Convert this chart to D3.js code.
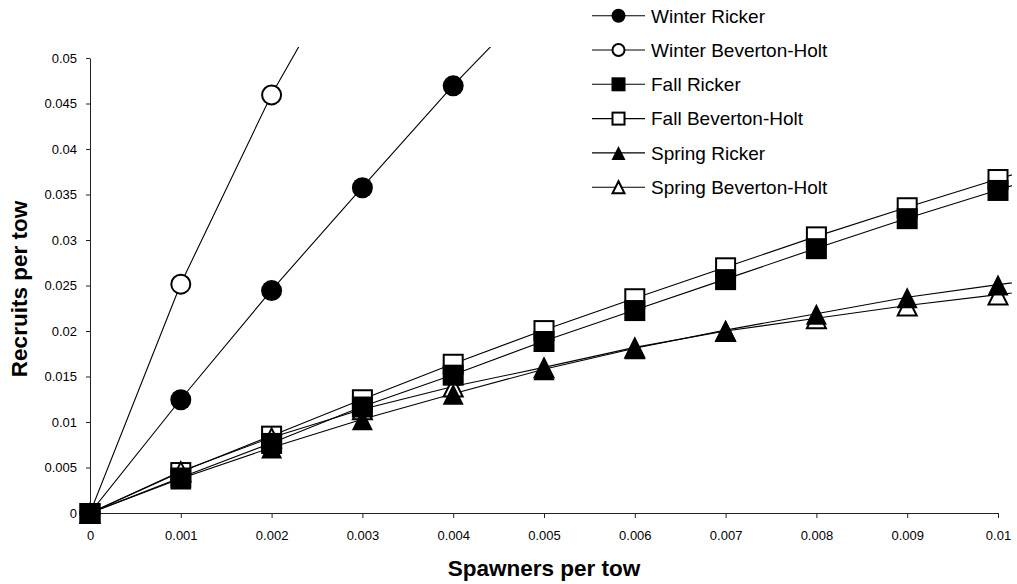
<!DOCTYPE html>
<html>
<head>
<meta charset="utf-8">
<script src="https://cdn.jsdelivr.net/npm/d3@7"></script>
<style>
  html, body { margin: 0; padding: 0; background: #fff; }
  svg { display: block; font-family: "Liberation Sans", Arial, sans-serif; }
</style>
</head>
<body>
<svg id="chart" width="1017" height="584"></svg>
<script>
// ---- data ----
const spawners = [0, 0.001, 0.002, 0.003, 0.004, 0.005, 0.006, 0.007, 0.008, 0.009, 0.010, 0.011];
const winterRicker = [0, 0.0125, 0.0245, 0.0358, 0.0470, 0.0573];
const winterBH = [0, 0.0252, 0.0460, 0.0635];
const fallRicker = [0, 0.0039, 0.0077, 0.0117, 0.0152, 0.0189, 0.0223, 0.0257, 0.0291, 0.0324, 0.0355, 0.0386];
const fallBH = [0, 0.0045, 0.0085, 0.0125, 0.0164, 0.0201, 0.0236, 0.0270, 0.0304, 0.0336, 0.0367, 0.0397];
const springRicker = [0, 0.0038, 0.0072, 0.0103, 0.0131, 0.0158, 0.0181, 0.0201, 0.0219, 0.0237, 0.0251, 0.0263];
const springBH = [0, 0.0046, 0.0083, 0.0114, 0.0139, 0.0160, 0.0182, 0.0200, 0.0214, 0.0228, 0.0240, 0.0251];

const xTicks = [0, 0.001, 0.002, 0.003, 0.004, 0.005, 0.006, 0.007, 0.008, 0.009, 0.01];
const xTickLabels = ["0", "0.001", "0.002", "0.003", "0.004", "0.005", "0.006", "0.007", "0.008", "0.009", "0.01"];
const yTicks = [0, 0.005, 0.01, 0.015, 0.02, 0.025, 0.03, 0.035, 0.04, 0.045, 0.05];
const yTickLabels = ["0", "0.005", "0.01", "0.015", "0.02", "0.025", "0.03", "0.035", "0.04", "0.045", "0.05"];

const seriesNames = ["Winter Ricker", "Winter Beverton-Holt", "Fall Ricker", "Fall Beverton-Holt", "Spring Ricker", "Spring Beverton-Holt"];
const seriesValues = [winterRicker, winterBH, fallRicker, fallBH, springRicker, springBH];
const seriesShapes = ["circle", "circle", "square", "square", "triangle", "triangle"];
const seriesFilled = [true, false, true, false, true, false];
const drawOrder = [1, 3, 5, 0, 2, 4]; // open (Beverton-Holt) markers first, filled on top

const xTitle = "Spawners per tow";
const yTitle = "Recruits per tow";

// ---- layout ----
const svg = d3.select("#chart");
const x = d3.scaleLinear().domain([0, 0.01]).range([90, 998]);
const y = d3.scaleLinear().domain([0, 0.05]).range([513, 58]);
const font = '"Liberation Sans", Arial, sans-serif';

svg.append("defs").append("clipPath").attr("id", "plotClip")
  .append("rect").attr("x", 60).attr("y", 47).attr("width", 952).attr("height", 537);

// axes
const yAxis = d3.axisLeft(y).tickValues(yTicks)
  .tickFormat((d, i) => yTickLabels[i]).tickSizeInner(4).tickSizeOuter(0).tickPadding(9);
const gy = svg.append("g").attr("transform", "translate(90,0)").call(yAxis);
const xAxis = d3.axisBottom(x).tickValues(xTicks)
  .tickFormat((d, i) => xTickLabels[i]).tickSizeInner(5).tickSizeOuter(0).tickPadding(13);
const gx = svg.append("g").attr("transform", "translate(0,513)").call(xAxis);
[gx, gy].forEach(g => {
  g.selectAll("path.domain").attr("stroke", "#222").attr("stroke-width", 1);
  g.selectAll(".tick line").attr("stroke", "#222");
  g.selectAll("text").attr("font-family", font).attr("font-size", 13).attr("fill", "#000");
});

// axis titles
svg.append("text").attr("x", 544).attr("y", 576)
  .attr("text-anchor", "middle").attr("font-family", font).attr("font-weight", "bold")
  .attr("font-size", 22.5).text(xTitle);
svg.append("text").attr("transform", "translate(27,289) rotate(-90)")
  .attr("text-anchor", "middle").attr("font-family", font).attr("font-weight", "bold")
  .attr("font-size", 22.5).text(yTitle);

// marker helper
function marker(g, shape, filled, cx, cy, size) {
  const sw = filled ? 0 : 2;
  const fill = filled ? "#000" : "#fff";
  const s = filled ? size : size - sw;
  if (shape === "circle") {
    g.append("circle").attr("cx", cx).attr("cy", cy).attr("r", s / 2)
      .attr("fill", fill).attr("stroke", "#000").attr("stroke-width", sw);
  } else if (shape === "square") {
    g.append("rect").attr("x", cx - s / 2).attr("y", cy - s / 2).attr("width", s).attr("height", s)
      .attr("fill", fill).attr("stroke", "#000").attr("stroke-width", sw);
  } else {
    const h = s, w = s;
    const p = `M${cx},${cy - h / 2}L${cx + w / 2},${cy + h / 2}L${cx - w / 2},${cy + h / 2}Z`;
    g.append("path").attr("d", p).attr("fill", fill).attr("stroke", "#000")
      .attr("stroke-width", sw).attr("stroke-linejoin", "miter");
  }
}

// lines
const line = d3.line().x(d => x(d[0])).y(d => y(d[1]));
const linesG = svg.append("g").attr("clip-path", "url(#plotClip)");
seriesValues.forEach(vals => {
  const pts = vals.map((v, i) => [spawners[i], v]);
  linesG.append("path").attr("d", line(pts)).attr("fill", "none")
    .attr("stroke", "#000").attr("stroke-width", 1.1);
});

// markers (only inside the axis range)
const markG = svg.append("g");
drawOrder.forEach(si => {
  seriesValues[si].forEach((v, i) => {
    const sx = spawners[i];
    if (sx <= 0.01 + 1e-9 && v <= 0.05) {
      marker(markG, seriesShapes[si], seriesFilled[si], x(sx), y(v) + 0.5, 21);
    }
  });
});

// legend
const legG = svg.append("g");
seriesNames.forEach((name, i) => {
  const ry = 15.7 + i * 34.3;
  legG.append("line").attr("x1", 592).attr("x2", 645).attr("y1", ry).attr("y2", ry)
    .attr("stroke", "#000").attr("stroke-width", 1.1);
  marker(legG, seriesShapes[i], seriesFilled[i], 618.5, ry, 14);
  legG.append("text").attr("x", 651).attr("y", ry + 6.8)
    .attr("font-family", font).attr("font-size", 19).attr("fill", "#000").text(name);
});
</script>
</body>
</html>
